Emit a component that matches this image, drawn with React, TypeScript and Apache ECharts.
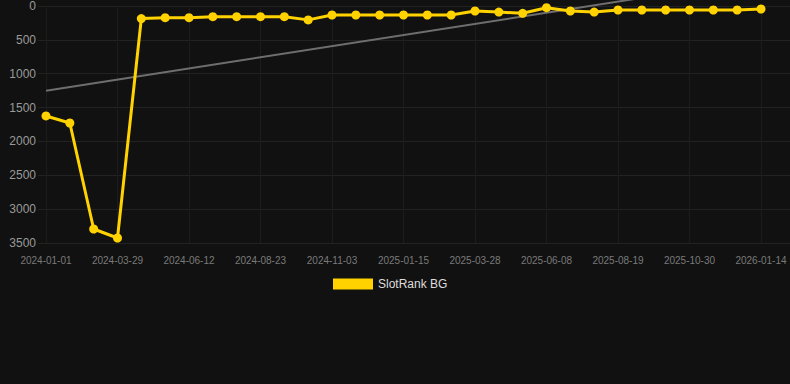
import React, { useEffect, useRef } from "react";
import * as echarts from "echarts";

const categories = [
  "2024-01-01", "2024-01-30", "2024-02-28", "2024-03-29", "2024-04-23", "2024-05-18",
  "2024-06-12", "2024-07-06", "2024-07-30", "2024-08-23", "2024-09-16", "2024-10-10",
  "2024-11-03", "2024-11-27", "2024-12-21", "2025-01-15", "2025-02-08", "2025-03-04",
  "2025-03-28", "2025-04-21", "2025-05-15", "2025-06-08", "2025-07-02", "2025-07-26",
  "2025-08-19", "2025-09-12", "2025-10-06", "2025-10-30", "2025-11-24", "2025-12-19",
  "2026-01-14",
];

const rankValues = [
  1624, 1728, 3293, 3426, 185, 173, 173, 158, 158, 158, 158, 205,
  133, 133, 133, 133, 133, 133, 74, 89, 108, 25, 74, 89,
  59, 59, 59, 59, 59, 59, 44,
];

const trendStart = 1250;
const trendEnd = -394;

const yMin = 0;
const yMax = 3500;
const yStep = 500;

const font = "Arial, Liberation Sans, sans-serif";

export default function App() {
  const ref = useRef<HTMLDivElement>(null);
  useEffect(() => {
    document.body.style.margin = "0";
    document.body.style.background = "#111111";
    const chart = echarts.init(ref.current!, undefined, { renderer: "svg" });
    chart.setOption({
      animation: false,
      backgroundColor: "#111111",
      grid: [
        { left: 46, right: 29, top: 6, bottom: 141 },
        { left: 38, right: 0, top: 6, bottom: 141 },
      ],
      legend: {
        top: 273,
        left: 328,
        itemWidth: 40,
        itemHeight: 11,
        itemGap: 10,
        data: [{ name: "SlotRank BG", icon: "rect" }],
        textStyle: { color: "#dddddd", fontSize: 12, fontFamily: font },
      },
      xAxis: [
        {
          type: "category",
          gridIndex: 0,
          data: categories,
          boundaryGap: false,
          axisLine: { show: false },
          axisTick: { show: false },
          axisLabel: {
            interval: 2,
            color: "#7a7a7a",
            fontSize: 10,
            margin: 12,
            fontFamily: font,
          },
          splitLine: {
            show: true,
            interval: 2,
            lineStyle: { color: "#1c1c1c", width: 1 },
          },
        },
        {
          type: "value",
          gridIndex: 1,
          show: false,
          min: 0,
          max: 1,
          splitLine: { show: false },
        },
      ],
      yAxis: [
        {
          type: "value",
          gridIndex: 0,
          inverse: true,
          min: yMin,
          max: yMax,
          interval: yStep,
          axisLine: { show: false },
          axisTick: { show: false },
          axisLabel: {
            color: "#9a9a9a",
            fontSize: 12,
            margin: 10,
            fontFamily: font,
            formatter: (v: number) => String(v),
          },
          splitLine: { show: false },
        },
        {
          type: "value",
          gridIndex: 1,
          inverse: true,
          min: yMin,
          max: yMax,
          interval: yStep,
          axisLine: { show: false },
          axisTick: { show: false },
          axisLabel: { show: false },
          splitLine: { show: true, lineStyle: { color: "#222222", width: 1 } },
        },
      ],
      series: [
        {
          name: "Trend",
          type: "line",
          xAxisIndex: 0,
          yAxisIndex: 0,
          data: [
            [categories[0], trendStart],
            [categories[categories.length - 1], trendEnd],
          ],
          showSymbol: false,
          symbol: "none",
          clip: false,
          silent: true,
          lineStyle: { color: "#6e6e6e", width: 2 },
          z: 1,
        },
        {
          name: "SlotRank BG",
          type: "line",
          xAxisIndex: 0,
          yAxisIndex: 0,
          data: rankValues,
          symbol: "circle",
          symbolSize: 9,
          itemStyle: { color: "#ffd200" },
          lineStyle: { color: "#ffd200", width: 3 },
          z: 3,
        },
      ],
    });
    return () => chart.dispose();
  }, []);
  return <div ref={ref} style={{ width: 790, height: 384 }} />;
}
